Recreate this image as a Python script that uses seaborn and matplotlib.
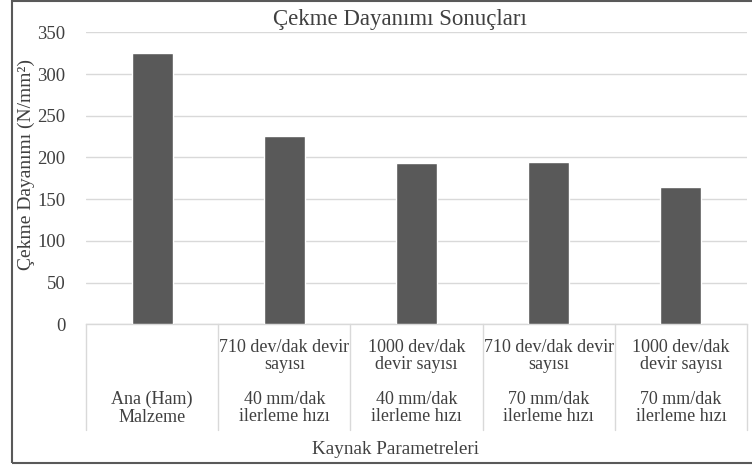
import numpy as np
import pandas as pd
import seaborn as sns
import matplotlib.pyplot as plt
import matplotlib.transforms as mtransforms
from matplotlib.patches import Rectangle

# Veriler
kategori = ["Ana", "710-40", "1000-40", "710-70", "1000-70"]
dayanim = [325, 226, 193, 194, 165]
devir_etiket = ["", "710 dev/dak devir\nsayısı", "1000 dev/dak\ndevir sayısı",
                "710 dev/dak devir\nsayısı", "1000 dev/dak\ndevir sayısı"]
ilerleme_etiket = ["Ana (Ham)\nMalzeme", "40 mm/dak\nilerleme hızı", "40 mm/dak\nilerleme hızı",
                   "70 mm/dak\nilerleme hızı", "70 mm/dak\nilerleme hızı"]
y_ticks = [0, 50, 100, 150, 200, 250, 300, 350]

sns.set_style("white")
plt.rcParams['font.family'] = ['Liberation Serif', 'DejaVu Serif']

text_col = "#404040"
grid_col = "#d9d9d9"

df = pd.DataFrame({"kategori": kategori, "dayanim": dayanim})

fig = plt.figure(figsize=(7.52, 4.67), dpi=100)
ax = fig.add_axes([86 / 752, 1 - 324.3 / 467, (747 - 86) / 752, (324.3 - 32.3) / 467])

sns.barplot(data=df, x="kategori", y="dayanim", color="#595959", width=0.31,
            saturation=1, ax=ax, zorder=3)

ax.set_ylim(0, 350)
ax.set_xlim(-0.5, len(kategori) - 0.5)
ax.set_yticks(y_ticks)
ax.set_yticklabels([str(v) for v in y_ticks], fontsize=13.5, color=text_col)
ax.tick_params(axis="y", length=0, pad=15)
ax.set_xticks([])
ax.set_xlabel("")
ax.set_ylabel("")
ax.yaxis.grid(True, color=grid_col, linewidth=1, zorder=0)
ax.set_axisbelow(True)
for s in ["top", "right", "left"]:
    ax.spines[s].set_visible(False)
ax.spines["bottom"].set_color(grid_col)
ax.spines["bottom"].set_linewidth(1)

# kategori kutulari ve etiketler
trans = mtransforms.blended_transform_factory(ax.transData, ax.transAxes)
for i in range(len(kategori) + 1):
    ax.plot([i - 0.5, i - 0.5], [0, -0.362], transform=trans, color=grid_col,
            linewidth=1, clip_on=False)
for i in range(len(kategori)):
    if devir_etiket[i]:
        ax.text(i, -0.108, devir_etiket[i], transform=trans, ha="center", va="center",
                fontsize=13, color=text_col, linespacing=1.05)
    ax.text(i, -0.287, ilerleme_etiket[i], transform=trans, ha="center", va="center",
            fontsize=13, color=text_col, linespacing=1.05)

fig.text(400 / 752, 1 - 20 / 467, "Çekme Dayanımı Sonuçları", ha="center", va="center",
         fontsize=16.5, color=text_col)
fig.text(395 / 752, 1 - 449 / 467, "Kaynak Parametreleri", ha="center", va="center",
         fontsize=13.8, color=text_col)
fig.text(26 / 752, 1 - 165 / 467, "Çekme Dayanımı (N/mm²)", ha="center", va="center",
         rotation=90, fontsize=14, color=text_col)

# cerceve
fig.patches.append(Rectangle((12 / 752, 4 / 467), 1.0, 462 / 467, transform=fig.transFigure,
                             fill=False, edgecolor="#595959", linewidth=1.5))

fig.savefig("out.png", dpi=100)
